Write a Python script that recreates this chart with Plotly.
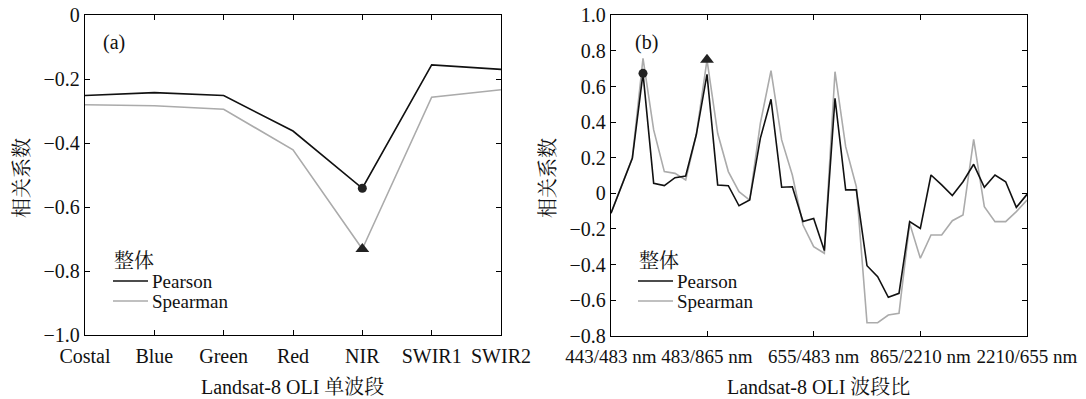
import plotly.graph_objects as go

# Panel (a): single OLI bands
bands = ["Costal", "Blue", "Green", "Red", "NIR", "SWIR1", "SWIR2"]
pearson_a = [-0.251, -0.242, -0.251, -0.362, -0.541, -0.155, -0.169]
spearman_a = [-0.280, -0.283, -0.294, -0.421, -0.731, -0.256, -0.233]

# Panel (b): band ratios, index 1..40
ratio_idx = list(range(1, 41))
pearson_b = [-0.112, 0.045, 0.197, 0.674, 0.056, 0.043, 0.088, 0.097, 0.33, 0.668,
             0.047, 0.043, -0.070, -0.038, 0.309, 0.528, 0.034, 0.037, -0.159, -0.141,
             -0.322, 0.534, 0.019, 0.019, -0.407, -0.468, -0.584, -0.562, -0.159, -0.197,
             0.103, 0.047, -0.013, 0.065, 0.163, 0.034, 0.103, 0.065, -0.079, -0.006]
spearman_b = [-0.112, 0.045, 0.200, 0.758, 0.356, 0.122, 0.112, 0.075, 0.33, 0.750,
              0.337, 0.122, 0.009, -0.038, 0.393, 0.689, 0.300, 0.103, -0.178, -0.300,
              -0.337, 0.683, 0.262, 0.037, -0.727, -0.727, -0.684, -0.674, -0.169, -0.365,
              -0.234, -0.234, -0.154, -0.122, 0.303, -0.075, -0.159, -0.159, -0.103, -0.038]

ratio_tickvals = [1, 10, 20, 30, 40]
ratio_ticktext = ["443/483 nm", "483/865 nm", "655/483 nm", "865/2210 nm", "2210/655 nm"]

ya_tickvals = [0, -0.2, -0.4, -0.6, -0.8, -1.0]
ya_ticktext = ["0", "\u22120.2", "\u22120.4", "\u22120.6", "\u22120.8", "\u22121.0"]
yb_tickvals = [1.0, 0.8, 0.6, 0.4, 0.2, 0, -0.2, -0.4, -0.6, -0.8]
yb_ticktext = ["1.0", "0.8", "0.6", "0.4", "0.2", "0", "\u22120.2", "\u22120.4", "\u22120.6", "\u22120.8"]

series_names = ["Pearson", "Spearman"]
legend_title = "整体"

# Highlighted extremes
a_mark_band = "NIR"
b_pearson_mark = 4
b_spearman_mark = 10

FONT = "Liberation Serif, Noto Serif CJK SC, Noto Sans CJK SC, serif"
BLACK = "#111111"
GREY = "#ababab"
MARK = "#222222"
LINE_W = 1.6

W, H = 1086, 399
def px_x(p):
    return p / W
def px_y(p):
    return 1 - p / H

fig = go.Figure()

# panel (a)
fig.add_trace(go.Scatter(x=bands, y=pearson_a, mode="lines", name=series_names[0],
                         line=dict(color=BLACK, width=LINE_W), xaxis="x", yaxis="y"))
fig.add_trace(go.Scatter(x=bands, y=spearman_a, mode="lines", name=series_names[1],
                         line=dict(color=GREY, width=LINE_W), xaxis="x", yaxis="y"))
i_nir = bands.index(a_mark_band)
fig.add_trace(go.Scatter(x=[a_mark_band], y=[pearson_a[i_nir]], mode="markers",
                         marker=dict(symbol="circle", size=9, color=MARK),
                         xaxis="x", yaxis="y"))
fig.add_trace(go.Scatter(x=[a_mark_band], y=[spearman_a[i_nir]], mode="markers",
                         marker=dict(symbol="triangle-up", size=12, color=MARK),
                         xaxis="x", yaxis="y"))

# panel (b)
fig.add_trace(go.Scatter(x=ratio_idx, y=spearman_b, mode="lines", name=series_names[1],
                         line=dict(color=GREY, width=LINE_W), xaxis="x2", yaxis="y2"))
fig.add_trace(go.Scatter(x=ratio_idx, y=pearson_b, mode="lines", name=series_names[0],
                         line=dict(color=BLACK, width=LINE_W), xaxis="x2", yaxis="y2"))
fig.add_trace(go.Scatter(x=[b_pearson_mark], y=[pearson_b[b_pearson_mark - 1]], mode="markers",
                         marker=dict(symbol="circle", size=9, color=MARK),
                         xaxis="x2", yaxis="y2"))
fig.add_trace(go.Scatter(x=[b_spearman_mark], y=[spearman_b[b_spearman_mark - 1]], mode="markers",
                         marker=dict(symbol="triangle-up", size=12, color=MARK),
                         xaxis="x2", yaxis="y2"))

axis_common = dict(showline=True, linecolor="black", linewidth=1.3, mirror="ticks",
                   ticks="inside", ticklen=5, tickwidth=1.2, tickcolor="black",
                   showgrid=False, zeroline=False, automargin=False, tickangle=0,
                   tickfont=dict(family=FONT, size=20, color="#111"))


def text(t, x, y, size=20, angle=0, xanchor="center"):
    return dict(text=t, x=px_x(x), y=px_y(y), xref="paper", yref="paper",
                xanchor=xanchor, yanchor="middle", textangle=angle,
                showarrow=False, font=dict(family=FONT, size=size, color="#111"))


annotations = [
    text("(a)", 114, 42),
    text("(b)", 646, 42),
    text("相关系数", 22, 178, angle=-90),
    text("相关系数", 548, 178, angle=-90),
    text("Landsat-8 OLI 单波段", 292, 387),
    text("Landsat-8 OLI 波段比", 818, 387),
]
shapes = []

# Compact legends drawn in each panel: title, then a line sample per series
for x0 in (113, 638):
    annotations.append(text(legend_title, x0 - 1, 261, size=20, xanchor="left"))
    for k, (name, color) in enumerate(zip(series_names, (BLACK, GREY))):
        yy = 281 + 20 * k
        shapes.append(dict(type="line", xref="paper", yref="paper",
                           x0=px_x(x0), x1=px_x(x0 + 35), y0=px_y(yy), y1=px_y(yy),
                           line=dict(color=color, width=LINE_W)))
        annotations.append(text(name, x0 + 37, yy, size=19, xanchor="left"))

fig.update_layout(
    width=W, height=H,
    margin=dict(l=0, r=0, t=0, b=0),
    paper_bgcolor="white", plot_bgcolor="white",
    font=dict(family=FONT, size=20, color="#111"),
    showlegend=False,
    xaxis=dict(domain=[px_x(85), px_x(501)], anchor="y", type="category",
               range=[0, 6], ticklabelstandoff=3, **axis_common),
    yaxis=dict(domain=[px_y(335), px_y(15.3)], anchor="x", range=[-1.0, 0],
               tickvals=ya_tickvals, ticktext=ya_ticktext, **axis_common),
    xaxis2=dict(domain=[px_x(611), px_x(1027)], anchor="y2", range=[1, 40],
                tickvals=ratio_tickvals, ticktext=ratio_ticktext, ticklabelstandoff=3,
                **{**axis_common, "tickfont": dict(family=FONT, size=19, color="#111")}),
    yaxis2=dict(domain=[px_y(335.7), px_y(15.3)], anchor="x2", range=[-0.8, 1.0],
                tickvals=yb_tickvals, ticktext=yb_ticktext, **axis_common),
    annotations=annotations,
    shapes=shapes,
)

fig.write_html("out.html")
